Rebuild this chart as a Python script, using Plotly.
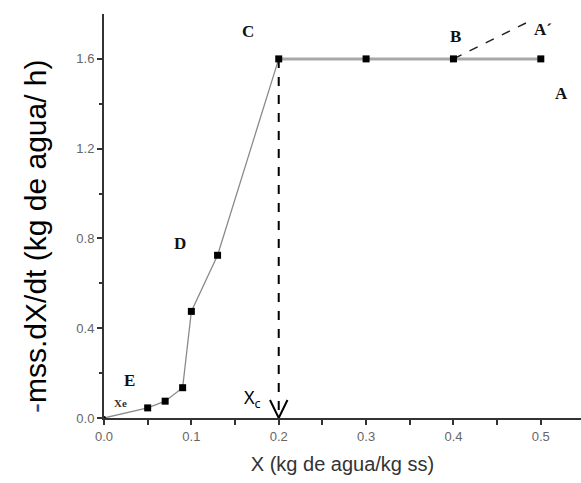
import plotly.graph_objects as go

# data
x_fall = [0.0, 0.05, 0.07, 0.09, 0.10, 0.13, 0.20]
y_fall = [0.0, 0.045, 0.075, 0.135, 0.475, 0.725, 1.60]
x_const = [0.20, 0.30, 0.40, 0.50]
y_const = [1.60, 1.60, 1.60, 1.60]
x_ext = [0.40, 0.483]
y_ext = [1.60, 1.76]
xc = 0.20
y_ticks = [0.0, 0.4, 0.8, 1.2, 1.6]
y_ticktext = ["0.0", "0.4", "0.8", "1.2", "1.6"]
x_ticks = [0.0, 0.1, 0.2, 0.3, 0.4, 0.5]
x_ticktext = ["0.0", "0.1", "0.2", "0.3", "0.4", "0.5"]
labels = [("C", 0.165, 1.72), ("B", 0.402, 1.70), ("A\u00b4", 0.503, 1.73),
          ("A", 0.524, 1.445), ("D", 0.087, 0.776), ("E", 0.029, 0.165)]
y_title = "<span style='color:#1f4e9a'>-</span>mss.dX/dt (kg de agua/ h)"

fig = go.Figure()
fig.add_trace(go.Scatter(x=x_fall, y=y_fall, mode="lines",
                         line=dict(color="#8a8a8a", width=1.3), hoverinfo="skip"))
fig.add_trace(go.Scatter(x=x_const, y=y_const, mode="lines",
                         line=dict(color="#a8a8a8", width=3), hoverinfo="skip"))
fig.add_trace(go.Scatter(x=x_ext, y=y_ext, mode="lines",
                         line=dict(color="#222", width=1.5, dash="dash"), hoverinfo="skip"))
# dashed drop line at Xc
fig.add_trace(go.Scatter(x=[xc, xc], y=[y_const[0], 0.0], mode="lines",
                         line=dict(color="#000", width=2, dash="dash"), hoverinfo="skip"))
# open arrow head
fig.add_trace(go.Scatter(x=[xc - 0.010, xc, xc + 0.010], y=[0.08, 0.0, 0.08], mode="lines",
                         line=dict(color="#000", width=2), hoverinfo="skip"))
fig.add_trace(go.Scatter(x=x_fall[1:] + x_const[1:], y=y_fall[1:] + y_const[1:], mode="markers",
                         marker=dict(symbol="square", size=7, color="#000"), hoverinfo="skip"))
fig.add_trace(go.Scatter(x=[0.0], y=[0.0], mode="markers",
                         marker=dict(symbol="circle", size=4, color="#000"), hoverinfo="skip"))

for t, x, y in labels:
    fig.add_annotation(x=x, y=y, text="<b>" + t + "</b>", showarrow=False,
                       font=dict(family="Liberation Serif", size=17, color="#111"))
fig.add_annotation(x=0.019, y=0.067, text="<b>Xe</b>", showarrow=False,
                   font=dict(family="Liberation Serif", size=11, color="#333"))
fig.add_annotation(x=0.170, y=0.089, text="X<sub>c</sub>", showarrow=False,
                   font=dict(family="Noto Sans", size=18, color="#000"))
# y axis title
fig.add_annotation(xref="paper", yref="paper", x=-0.1426, y=0.4505, text=y_title,
                   textangle=-90, showarrow=False, xanchor="center", yanchor="middle",
                   font=dict(family="Liberation Sans", size=30, color="#000"))

fig.update_layout(
    width=581, height=483, showlegend=False,
    paper_bgcolor="white", plot_bgcolor="white",
    margin=dict(l=104, r=0, t=14, b=65),
    xaxis=dict(range=[0, 0.546], tickvals=x_ticks, ticktext=x_ticktext,
               showgrid=False, zeroline=False, showline=True, linecolor="#333", linewidth=2,
               ticks="outside", ticklen=5, tickwidth=1.5, tickcolor="#333",
               minor=dict(tickvals=[0.05, 0.15, 0.25, 0.35, 0.45], ticks="outside",
                          ticklen=5, tickwidth=1.5, tickcolor="#333"),
               tickfont=dict(family="Liberation Sans", size=13, color="#666"),
               title=dict(text="X (kg de agua/kg ss)", standoff=14,
                          font=dict(family="Liberation Sans", size=20, color="#333"))),
    yaxis=dict(range=[0, 1.8], tickvals=y_ticks, ticktext=y_ticktext,
               showgrid=False, zeroline=False, showline=True, linecolor="#333", linewidth=2,
               ticks="outside", ticklen=5, tickwidth=1.5, tickcolor="#333",
               minor=dict(tickvals=[0.2, 0.6, 1.0, 1.4], ticks="outside",
                          ticklen=3, tickwidth=1.5, tickcolor="#333"),
               tickfont=dict(family="Liberation Sans", size=13, color="#666")),
)
fig.write_html("out.html")
